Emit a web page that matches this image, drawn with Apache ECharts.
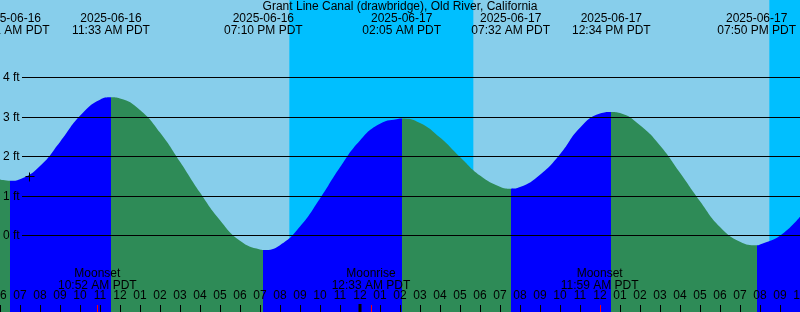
<!DOCTYPE html>
<html><head><meta charset="utf-8">
<script src="https://cdn.jsdelivr.net/npm/echarts@6/dist/echarts.min.js"></script>
<style>html,body{margin:0;padding:0;background:#87CEEB}#c{width:800px;height:312px}</style>
</head><body><div id="c"></div><script>
const chartTitle = 'Grant Line Canal (drawbridge), Old River, California';
// all times: hours since 2025-06-16 00:00 PDT
const sampleHours = [6, 7, 8, 9, 10, 11, 12, 13, 14, 15, 16, 17, 18, 19, 20, 21, 22, 23, 24, 25, 26,
  27, 28, 29, 30, 31, 32, 33, 34, 35, 36, 37, 38, 39, 40, 41, 42, 43, 44, 45, 46];
const sampleHeights = [1.41, 1.42, 1.75, 2.36, 3.02, 3.43, 3.46, 3.17, 2.60, 1.86, 1.08, 0.38, -0.14, -0.36, -0.25, 0.22, 0.93, 1.72, 2.40, 2.82, 2.95,
  2.84, 2.47, 1.98, 1.51, 1.23, 1.22, 1.53, 2.05, 2.72, 3.08, 3.09, 2.78, 2.27, 1.58, 0.86, 0.21, -0.16, -0.23, -0.01, 0.47];
const tideHours = [6.517, 11.55, 19.167, 26.083, 31.533, 36.567, 43.833];
const tideHeights = [1.38, 3.49, -0.37, 2.955, 1.18, 3.12, -0.25];
const tideKinds = ['low', 'high', 'low', 'high', 'low', 'high', 'low'];
const tideDates = ['2025-06-16', '2025-06-16', '2025-06-16', '2025-06-17', '2025-06-17', '2025-06-17', '2025-06-17'];
const tideTimes = ['06:31 AM PDT', '11:33 AM PDT', '07:10 PM PDT', '02:05 AM PDT', '07:32 AM PDT', '12:34 PM PDT', '07:50 PM PDT'];
const moonHours = [10.867, 24.55, 35.983];
const moonNames = ['Moonset', 'Moonrise', 'Moonset'];
const moonTimes = ['10:52 AM PDT', '12:33 AM PDT', '11:59 AM PDT'];
const sunsetHours = [20.467, 44.467];
const sunriseHours = [29.667];
const midnightHours = [24];
const yTicks = [0, 1, 2, 3, 4];
const nowMark = [7.467, 1.51];

const xMin = 6, xMax = 46, yMin = -1.939, yMax = 5.949;
const FAMILY = '"Liberation Sans", Arial, sans-serif';
const FONT = '12px ' + FAMILY;
const BLUE = '#0000FF', GREEN = '#2E8B57', NIGHT = '#00BFFF', DAY = '#87CEEB';

// curve points
const curve = sampleHours.map((h, i) => [h, sampleHeights[i]])
  .concat(tideHours.map((h, i) => [h, tideHeights[i]]))
  .sort((a, b) => a[0] - b[0]);

// rising = blue, falling = green
const pieces = [];
pieces.push({ lt: tideHours[0], color: tideKinds[0] === 'low' ? GREEN : BLUE });
for (let i = 0; i < tideHours.length - 1; i++) {
  pieces.push({ gte: tideHours[i], lt: tideHours[i + 1], color: tideKinds[i] === 'low' ? BLUE : GREEN });
}
pieces.push({ gte: tideHours[tideHours.length - 1], color: tideKinds[tideKinds.length - 1] === 'low' ? BLUE : GREEN });

// night intervals
const nights = sunsetHours.map((s, i) => [s, i < sunriseHours.length ? sunriseHours[i] : xMax, 0]);
// hourly ticks along the time axis
const hourTicks = [];
for (let h = xMin; h <= xMax; h++) hourTicks.push([h, yMin]);

const txt = (x, y, text, align) => ({ type: 'text', x, y, silent: true,
  style: { text, font: FONT, fill: '#000', align: align || 'center', verticalAlign: 'middle' } });

const chart = echarts.init(document.getElementById('c'), null, { renderer: 'canvas' });
chart.setOption({
  backgroundColor: DAY,
  animation: false,
  title: { text: chartTitle, left: 'center', top: 1, padding: 0, textStyle: { fontSize: 12, fontWeight: 'normal', fontFamily: FAMILY, color: '#000' } },
  grid: { left: 0, right: 0, top: 0, bottom: 0, containLabel: false, outerBoundsMode: 'none' },
  xAxis: {
    type: 'value', min: xMin, max: xMax, interval: 1,
    axisLine: { show: false, onZero: false },
    splitLine: { show: false },
    axisTick: { show: false },
    axisLabel: {
      inside: true, margin: 10, color: '#000', fontSize: 12, fontFamily: FAMILY,
      showMinLabel: true, showMaxLabel: true, hideOverlap: false,
      formatter: v => { const h = ((Math.round(v) % 12) + 12) % 12; return String(h === 0 ? 12 : h).padStart(2, '0'); }
    },
    z: 10
  },
  yAxis: { type: 'value', min: yMin, max: yMax, show: false, splitLine: { show: false } },
  visualMap: { type: 'piecewise', show: false, dimension: 0, seriesIndex: 1, pieces },
  series: [
    { type: 'custom', z: 1, silent: true, data: nights, encode: { x: [0, 1], y: 2 },
      renderItem: (params, api) => {
        const p1 = api.coord([api.value(0), yMax]);
        const p2 = api.coord([api.value(1), yMin]);
        return { type: 'rect', shape: { x: p1[0], y: p1[1], width: p2[0] - p1[0], height: p2[1] - p1[1] }, style: { fill: NIGHT } };
      } },
    { type: 'line', z: 2, data: curve, smooth: 0.5, symbol: 'none', silent: true,
      lineStyle: { width: 0, opacity: 0 }, areaStyle: { opacity: 1, origin: 'start' } },
    { type: 'custom', z: 5, silent: true, data: yTicks.map(v => [xMin, v]), encode: { x: 0, y: 1 },
      renderItem: (params, api) => {
        const y = Math.round(api.coord([api.value(0), api.value(1)])[1]) + 0.5;
        const cs = params.coordSys;
        return { type: 'group', children: [
          { type: 'line', shape: { x1: cs.x + 22, y1: y, x2: cs.x + cs.width, y2: y }, style: { stroke: '#000', lineWidth: 1 } },
          txt(cs.x + 3, y, api.value(1) + ' ft', 'left')
        ] };
      } },
    { type: 'custom', z: 6, silent: true, data: tideHours.map((h, i) => [h, tideHeights[i]]), encode: { x: 0, y: 1 },
      renderItem: (params, api) => {
        const x = api.coord([api.value(0), 0])[0];
        const i = params.dataIndex;
        return { type: 'group', children: [txt(x, 19, tideDates[i]), txt(x, 31, tideTimes[i])] };
      } },
    { type: 'custom', z: 8, silent: true, data: hourTicks, encode: { x: 0, y: 1 },
      renderItem: (params, api) => {
        const p = api.coord([api.value(0), api.value(1)]);
        const x = Math.round(p[0]) + 0.5;
        return { type: 'line', shape: { x1: x, y1: p[1], x2: x, y2: p[1] - 7 }, style: { stroke: '#000', lineWidth: 1 } };
      } },
    { type: 'custom', z: 9, silent: true, data: moonHours.map(h => [h, yMin]), encode: { x: 0, y: 1 },
      renderItem: (params, api) => {
        const p = api.coord([api.value(0), api.value(1)]);
        const i = params.dataIndex;
        const x = Math.round(p[0]) + 0.5;
        return { type: 'group', children: [
          txt(p[0], 274, moonNames[i]), txt(p[0], 285.5, moonTimes[i]),
          { type: 'line', shape: { x1: x, y1: p[1], x2: x, y2: p[1] - 7 }, style: { stroke: '#FF0000', lineWidth: 1 } }
        ] };
      } },
    { type: 'custom', z: 11, silent: true, data: midnightHours.map(h => [h, yMin]), encode: { x: 0, y: 1 },
      renderItem: (params, api) => {
        const p = api.coord([api.value(0), api.value(1)]);
        return { type: 'line', shape: { x1: p[0], y1: p[1], x2: p[0], y2: p[1] - 8 }, style: { stroke: '#000', lineWidth: 3 } };
      } },
    { type: 'custom', z: 7, silent: true, data: [nowMark], encode: { x: 0, y: 1 },
      renderItem: (params, api) => {
        const p = api.coord([api.value(0), api.value(1)]);
        const x = Math.round(p[0]) + 0.5, y = Math.round(p[1]) + 0.5;
        return { type: 'group', children: [
          { type: 'line', shape: { x1: x - 4, y1: y, x2: x + 5, y2: y }, style: { stroke: '#000', lineWidth: 1 } },
          { type: 'line', shape: { x1: x, y1: y - 4, x2: x, y2: y + 5 }, style: { stroke: '#000', lineWidth: 1 } }
        ] };
      } }
  ]
});
</script></body></html>
